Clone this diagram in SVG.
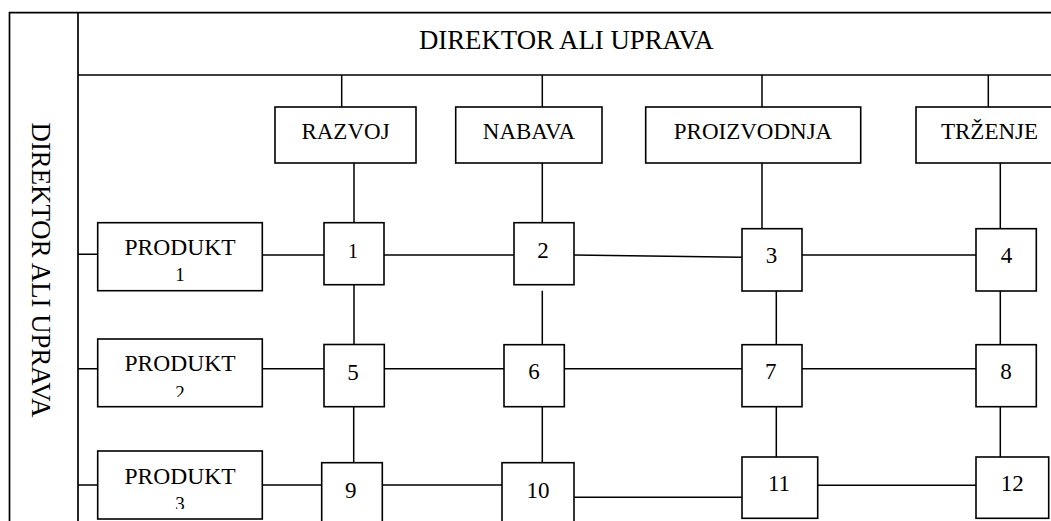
<svg xmlns="http://www.w3.org/2000/svg" width="1051" height="521" viewBox="0 0 1051 521">
<style>
.f{fill:none;stroke:#000;stroke-width:1.7}
.b{fill:#fff;stroke:#000;stroke-width:1.6}
.c{fill:none;stroke:#000;stroke-width:1.5}
text{font-family:"Liberation Serif","Times New Roman",serif;fill:#000;text-anchor:middle}
.h{font-size:26.8px}
.d{font-size:23px}
.p{font-size:23.5px}
.q{font-size:19px}
.n{font-size:23px}
</style>
<defs>
<clipPath id="cp1"><rect x="98" y="223" width="164" height="58"/></clipPath>
<clipPath id="cp2"><rect x="98" y="339" width="164" height="58"/></clipPath>
<clipPath id="cp3"><rect x="98" y="451" width="164" height="58"/></clipPath>
</defs>
<rect width="1051" height="521" fill="#fff"/>
<g id="frame">
<path class="f" d="M1051,12.7 H9.5 V521 M78,12.7 V521 M78,75 H1051"/>
</g>
<g id="director-top"><text class="h" x="566.3" y="49.3">DIREKTOR ALI UPRAVA</text></g>
<g id="director-side"><text class="h" transform="translate(32,270) rotate(90)">DIREKTOR ALI UPRAVA</text></g>
<g id="connectors">
<path class="c" d="M341.7,75 V107 M542.3,75 V107 M762,75 V107 M988.3,75 V107"/>
<path class="c" d="M354,163 V222.7 M542.3,163 V222.7 M762,163 V228.7 M1000.3,163 V228.7"/>
<path class="c" d="M354,284.7 V344.5 M542.3,290.7 V344.7 M776.3,291 V344.7 M1000.3,291 V344.7"/>
<path class="c" d="M353.7,406.7 V462.7 M542.3,406.7 V462.7 M776.3,406.7 V457 M1000.3,406.7 V457"/>
<path class="c" d="M78,254.3 H98 M78,368.7 H98 M78,485 H98"/>
<path class="c" d="M262,255 H324 M384,255 H514 M574,255 L742,257.3 M802,255 H976"/>
<path class="c" d="M262,368.7 H324 M382,368.7 H504 M564.3,368.7 H742 M802,368.7 H976"/>
<path class="c" d="M262,485 H325 M382.3,485 H502 M574,497.3 H742 M817.7,485.3 H976"/>
</g>
<g id="razvoj"><rect class="b" x="275" y="107" width="141" height="56"/><text class="d" x="345.5" y="139.3">RAZVOJ</text></g>
<g id="nabava"><rect class="b" x="455.7" y="107" width="146.3" height="56"/><text class="d" x="529" y="139.3">NABAVA</text></g>
<g id="proizvodnja"><rect class="b" x="645.7" y="107" width="215" height="56"/><text class="d" x="753" y="139.3">PROIZVODNJA</text></g>
<g id="trzenje"><rect class="b" x="916" y="107" width="147" height="56"/><text class="d" x="989.5" y="139.3">TRŽENJE</text></g>
<g id="produkt1"><rect class="b" x="97.7" y="222.7" width="164.6" height="68"/><text class="p" x="180" y="255">PRODUKT</text><text class="q" x="180" y="281" clip-path="url(#cp1)">1</text></g>
<g id="produkt2"><rect class="b" x="97.7" y="339" width="164.6" height="67.7"/><text class="p" x="180" y="370.7">PRODUKT</text><text class="q" x="180" y="398.5" clip-path="url(#cp2)">2</text></g>
<g id="produkt3"><rect class="b" x="97.7" y="451" width="164.6" height="68"/><text class="p" x="180" y="484">PRODUKT</text><text class="q" x="180" y="510" clip-path="url(#cp3)">3</text></g>
<g id="n1"><rect class="b" x="324" y="222.7" width="60" height="62"/><text class="n" x="353" y="258" style="font-size:20px">1</text></g>
<g id="n2"><rect class="b" x="514" y="222.7" width="60" height="62"/><text class="n" x="543" y="258">2</text></g>
<g id="n3"><rect class="b" x="742" y="228.7" width="60" height="62.3"/><text class="n" x="771.5" y="263.3">3</text></g>
<g id="n4"><rect class="b" x="976" y="228.7" width="60.3" height="62.3"/><text class="n" x="1006.5" y="263.3">4</text></g>
<g id="n5"><rect class="b" x="324" y="344.5" width="60.3" height="62.2"/><text class="n" x="353" y="380">5</text></g>
<g id="n6"><rect class="b" x="504" y="344.7" width="60.3" height="62"/><text class="n" x="534" y="379.3">6</text></g>
<g id="n7"><rect class="b" x="742" y="344.7" width="60" height="62"/><text class="n" x="770.7" y="379.3">7</text></g>
<g id="n8"><rect class="b" x="976" y="344.7" width="60.3" height="62"/><text class="n" x="1006" y="379.3">8</text></g>
<g id="n9"><rect class="b" x="321.7" y="462.7" width="60.6" height="70"/><text class="n" x="350.7" y="497.5">9</text></g>
<g id="n10"><rect class="b" x="502" y="462.7" width="72" height="70"/><text class="n" x="538" y="498">10</text></g>
<g id="n11"><rect class="b" x="742" y="457" width="75.7" height="61.3"/><text class="n" x="779" y="491">11</text></g>
<g id="n12"><rect class="b" x="976" y="457" width="72.7" height="61.3"/><text class="n" x="1012.3" y="491">12</text></g>
</svg>
